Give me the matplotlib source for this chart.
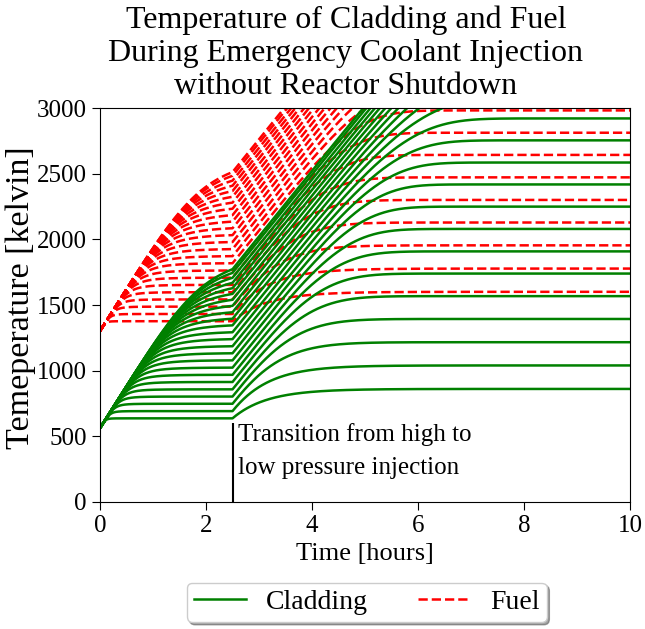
import numpy as np
import matplotlib
matplotlib.use('Agg')
import matplotlib.pyplot as plt

plt.rcParams['font.family'] = ['Liberation Serif', 'DejaVu Serif']

# values (kelvin, hours)
switch_time = 2.5            # high -> low pressure injection
clad_start = 562
fuel_start = 1302
# plateau each run is heading for during high pressure injection
clad_high = [637, 692, 748, 803, 858, 914, 969, 1024, 1080, 1135, 1190, 1246,
             1301, 1357, 1412, 1467, 1523, 1578, 1633, 1689, 1744, 1799, 1855, 1900]
fuel_high = [1377, 1432, 1488, 1543, 1598, 1654, 1709, 1764, 1820, 1875, 1930, 1986,
             2041, 2097, 2152, 2207, 2263, 2318, 2373, 2429, 2484, 2539, 2595, 2640]
# final level after low pressure injection (runs above 3000 are off the chart)
clad_low = [861, 1040, 1217, 1394, 1568, 1740, 1909, 2080, 2250, 2419, 2586, 2755,
            2922, 3090, 3258, 3426, 3594, 3762, 3930, 4098, 4266, 4434, 4602, 4770]
fuel_low = [1601, 1778, 1955, 2129, 2301, 2473, 2644, 2813, 2983, 3153, 3323, 3493,
            3663, 3830, 3998, 4166, 4334, 4502, 4670, 4838, 5006, 5174, 5342, 5510]

rate_high = 640   # K/h, common heat-up slope at the start
rate_low = 500    # K/h, steepest climb after the switch
tau_low = 0.65    # h, time constant of the low runs after the switch


def heat_up(t, start, level, rate, knee=4):
    # climbs at `rate` and rolls over onto `level`
    gap = level - start
    x = rate * t / gap
    return start + gap * x / (1 + x**knee)**(1 / knee)


def settle(t, start, level, rate, knee):
    # same idea, exponential tail (knee=1 -> plain exponential)
    gap = level - start
    x = rate * t / gap
    return start + gap * (1 - np.exp(-x**knee))**(1 / knee)


def run(t, start, high, low):
    y = heat_up(t, start, high, rate_high)
    y_sw = heat_up(switch_time, start, high, rate_high)
    gap = low - y_sw
    knee = min(max(1.0, gap / (tau_low * rate_low)), 4.0)
    rate = min(rate_low, gap / tau_low)
    after = t > switch_time
    y[after] = settle(t[after] - switch_time, y_sw, low, rate, knee)
    return y


t = np.linspace(0, 10, 1001)

fig = plt.figure(figsize=(6.45, 6.29), dpi=100)
ax = fig.add_axes([0.155, 0.202, 0.822, 0.626])

for i in range(len(clad_high)):
    ax.plot(t, run(t, clad_start, clad_high[i], clad_low[i]), c='green', lw=1.8,
            label='Cladding' if i == 0 else None)
    ax.plot(t, run(t, fuel_start, fuel_high[i], fuel_low[i]), c='red', lw=1.8, ls='--',
            label='Fuel' if i == 0 else None)

ax.vlines(switch_time, 0, 600, colors='black', lw=1.5)
ax.text(switch_time + 0.1, 598, 'Transition from high to\nlow pressure injection',
        fontsize=18, va='top', ha='left', linespacing=1.6)

ax.set_xlim(0, 10)
ax.set_ylim(0, 3000)
ax.set_xticks([0, 2, 4, 6, 8, 10])
ax.set_yticks([0, 500, 1000, 1500, 2000, 2500, 3000])
ax.tick_params(labelsize=18, length=6)
ax.set_xlabel('Time [hours]', fontsize=19)
ax.set_ylabel('Temeperature [kelvin]', fontsize=24.5)
ax.yaxis.set_label_coords(-0.121, 0.52)

fig.text(346 / 645, 0.992, 'Temperature of Cladding and Fuel\n'
         'During Emergency Coolant Injection\nwithout Reactor Shutdown',
         ha='center', va='top', fontsize=23, linespacing=1.2)

ax.legend(loc='upper center', bbox_to_anchor=(0.503, -0.205), borderaxespad=0,
          ncol=2, fontsize=20, shadow=True, borderpad=0.25, handlelength=1.9,
          handletextpad=0.7, columnspacing=1.8)

fig.savefig('out.png', dpi=100)
